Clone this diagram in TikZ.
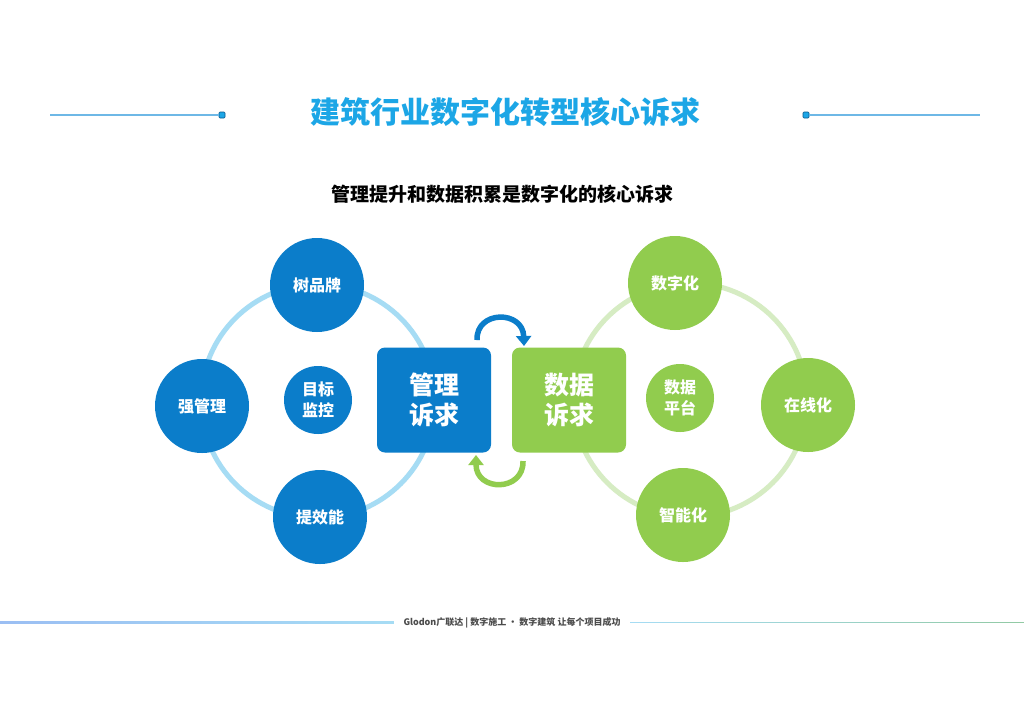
\documentclass[tikz,border=0pt]{standalone}
\usepackage{fontspec}
\setmainfont{Noto Sans CJK SC}
\usetikzlibrary{arrows.meta, positioning, calc}

\definecolor{deepblue}{RGB}{11,125,202}
\definecolor{leafgreen}{RGB}{145,204,78}
\definecolor{skyline}{RGB}{166,220,244}
\definecolor{paleleaf}{RGB}{214,236,195}
\definecolor{titleblue}{RGB}{28,166,230}
\definecolor{rule}{RGB}{110,184,230}

\begin{document}
\begin{tikzpicture}[x=1pt, y=-1pt,
	bubble/.style={circle, fill=#1, minimum size=94pt, inner sep=0pt, text=white, align=center, font=\bfseries\fontsize{16}{19}\selectfont},
	hub/.style={circle, fill=#1, minimum size=68pt, inner sep=0pt, text=white, align=center, font=\bfseries\fontsize{16}{21}\selectfont},
	demand/.style={rectangle, rounded corners=8pt, fill=#1, minimum width=114pt, minimum height=105pt, text=white, align=center, font=\bfseries\fontsize{25}{30}\selectfont},
	loop/.style={line width=5pt},
	arrow/.style={line width=5.5pt, -{Triangle[length=10pt, width=15pt]}},
	dot/.style={rectangle, rounded corners=1pt, fill=titleblue, draw=deepblue!70!black, line width=0.6pt, minimum size=6pt, inner sep=0pt}
]
	\useasboundingbox (0,0) rectangle (1024,724);
	\fill[white] (0,0) rectangle (1024,724);

	% Title
	\node[text=titleblue, font=\bfseries\fontsize{30}{34}\selectfont] (title) at (505,112) {建筑行业数字化转型核心诉求};
	\node[dot] (dotl) at (222,115) {};
	\node[dot] (dotr) at (806,115) {};
	\coordinate (rulel) at (50,115);
	\coordinate (ruler) at (980,115);
	\draw[rule, line width=1.4pt] (rulel) -- (dotl);
	\draw[rule, line width=1.4pt] (dotr) -- (ruler);
	\node[font=\bfseries\fontsize{19}{22}\selectfont] (sub) at (502,194) {管理提升和数据积累是数字化的核心诉求};

	% Management ring
	\coordinate (mc) at (318,401);
	\draw[loop, skyline] (mc) circle (117);
	\node[bubble=deepblue] (brand) at (317,285) {树品牌};
	\node[bubble=deepblue] (strong) at (202,406) {强管理};
	\node[bubble=deepblue] (boost) at (320,517) {提效能};
	\node[hub=deepblue] (target) at (318,400) {目标\\监控};

	% Data ring
	\coordinate (dc) at (690,400);
	\draw[loop, paleleaf] (dc) circle (117);
	\node[bubble=leafgreen] (digit) at (675,283) {数字化};
	\node[bubble=leafgreen] (online) at (808,405) {在线化};
	\node[bubble=leafgreen] (smart) at (683,515) {智能化};
	\node[hub=leafgreen] (platform) at (680,398) {数据\\平台};

	% Demands
	\node[demand=deepblue] (mgmt) at (434,400) {管理\\诉求};
	\node[demand=leafgreen] (data) at (569,400) {数据\\诉求};

	% Cycle arrows
	\coordinate (ua) at (477,340);
	\coordinate (ub) at (524,346);
	\coordinate (la) at (523,461);
	\coordinate (lb) at (476,455);
	\draw[arrow, deepblue] (ua) .. controls (476,310) and (523,310) .. (ub);
	\draw[arrow, leafgreen] (la) .. controls (524,492) and (476,492) .. (lb);

	% Footer
	\node[text=black!70, font=\bfseries\fontsize{9}{11}\selectfont] (foot) at (512,623) {Glodon广联达 | 数字施工 · 数字建筑 让每个项目成功};
	\coordinate (fl) at (0,622);
	\coordinate (fr) at (1024,622);
	\shade[left color=rule!80!blue!60, right color=skyline] ($(fl)+(0,-0.8)$) rectangle ($(foot.west)+(-6,0.8)$);
	\shade[left color=skyline, right color=leafgreen!50!teal!60] ($(foot.east)+(6,-0.8)$) rectangle ($(fr)+(0,0.8)$);
\end{tikzpicture}
\end{document}
